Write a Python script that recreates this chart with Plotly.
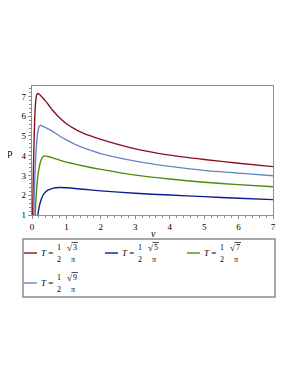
import plotly.graph_objects as go

# ---- data ----
v_red = [0.015, 0.03, 0.05, 0.08, 0.11, 0.14, 0.17, 0.22, 0.3, 0.4, 0.5, 0.6, 0.8, 1.0, 1.25, 1.5, 2.0, 3.0, 4.0, 5.0, 6.0, 7.0]
p_red = [0.5, 2.2, 4.0, 5.9, 6.8, 7.1, 7.15, 7.1, 6.95, 6.75, 6.53, 6.3, 5.92, 5.62, 5.35, 5.13, 4.83, 4.35, 4.03, 3.81, 3.62, 3.45]

v_navy = [0.15, 0.17, 0.22, 0.28, 0.35, 0.45, 0.6, 0.8, 1.0, 1.5, 2.0, 3.0, 4.0, 5.0, 6.0, 7.0]
p_navy = [0.5, 1.0, 1.5, 1.85, 2.08, 2.25, 2.35, 2.39, 2.38, 2.3, 2.22, 2.1, 2.01, 1.93, 1.85, 1.78]

v_green = [0.075, 0.09, 0.13, 0.18, 0.24, 0.3, 0.36, 0.45, 0.6, 0.8, 1.0, 1.5, 2.0, 3.0, 4.0, 5.0, 6.0, 7.0]
p_green = [0.5, 1.0, 2.2, 3.1, 3.65, 3.92, 3.99, 3.96, 3.89, 3.78, 3.68, 3.48, 3.31, 3.02, 2.82, 2.66, 2.54, 2.43]

v_lblue = [0.04, 0.05, 0.08, 0.12, 0.16, 0.2, 0.24, 0.3, 0.4, 0.5, 0.6, 0.8, 1.0, 1.25, 1.5, 2.0, 3.0, 4.0, 5.0, 6.0, 7.0]
p_lblue = [0.5, 1.0, 2.8, 4.3, 5.1, 5.45, 5.54, 5.5, 5.42, 5.33, 5.23, 5.0, 4.8, 4.58, 4.4, 4.11, 3.73, 3.46, 3.26, 3.12, 2.99]

x_ticks = [0, 1, 2, 3, 4, 5, 6, 7]
y_ticks = [1, 2, 3, 4, 5, 6, 7]
legend_roots = ["3", "5", "7", "9"]

RED, NAVY, GREEN, LBLUE = "#8a1020", "#101c8a", "#4f8a0c", "#6686c2"
colors = [RED, NAVY, GREEN, LBLUE]

OFF = 8  # page body margin
W, H = 298 - OFF, 385 - OFF
# plot area in page pixels
L, R, T, B = 32, 273, 86, 215

fig = go.Figure()
for vx, py_, c in [(v_red, p_red, RED), (v_lblue, p_lblue, LBLUE), (v_green, p_green, GREEN), (v_navy, p_navy, NAVY)]:
    fig.add_trace(go.Scatter(x=vx, y=py_, mode="lines", line=dict(color=c, width=1.4, shape="spline", smoothing=0.6),
                             showlegend=False, hoverinfo="skip"))

def px(x):
    return (x - L) / (R - L)

def py(y):
    return (B - y) / (B - T)

SERIF = "Liberation Serif"
ann = []
shapes = []

def txt(x, y, s, size, xanchor="center"):
    ann.append(dict(x=px(x), y=py(y), text=s, showarrow=False, xref="paper", yref="paper",
                    xanchor=xanchor, yanchor="middle", font=dict(family=SERIF, size=size, color="black")))

# axis labels
txt(10, 152, "p", 11)
txt(153, 233, "<i>v</i>", 10)

# legend box
shapes.append(dict(type="rect", xref="paper", yref="paper", x0=px(23), x1=px(275), y0=py(239), y1=py(297),
                   line=dict(color="#8c8c8c", width=1.5)))

entries = [(24, 253), (105, 253), (187, 253), (24, 283)]
for (ex, ey), c, r in zip(entries, colors, legend_roots):
    shapes.append(dict(type="line", xref="paper", yref="paper", x0=px(ex), x1=px(ex + 13), y0=py(ey), y1=py(ey),
                       line=dict(color=c, width=1.4)))
    txt(ex + 15, ey, "<i>T</i> =", 9, "left")
    txt(ex + 35, ey - 5.5, "1", 8)
    txt(ex + 35, ey + 6, "2", 8)
    txt(ex + 41, ey - 5.5, "\u221a", 9, "left")
    txt(ex + 50.5, ey - 5.5, r, 8)
    shapes.append(dict(type="line", xref="paper", yref="paper", x0=px(ex + 47.5), x1=px(ex + 54), y0=py(ey - 10.5),
                       y1=py(ey - 10.5), line=dict(color="black", width=0.7)))
    txt(ex + 48.5, ey + 6, "\u03c0", 8)

axis_common = dict(showgrid=False, zeroline=False, showline=True, linecolor="#8c8c8c", linewidth=1.3, mirror=True,
                   ticks="outside", ticklen=3, tickcolor="#8c8c8c", tickwidth=1,
                   tickfont=dict(family=SERIF, size=9, color="black"))

fig.update_layout(
    width=W, height=H,
    margin=dict(l=L - OFF, r=W - (R - OFF), t=T - OFF, b=H - (B - OFF), pad=0),
    plot_bgcolor="white", paper_bgcolor="white",
    xaxis=dict(range=[0, 7], tickvals=x_ticks, ticktext=[str(t) for t in x_ticks],
               minor=dict(ticks="outside", ticklen=2, dtick=0.2, tickcolor="#8c8c8c"), **axis_common),
    yaxis=dict(range=[1, 7.53], tickvals=y_ticks, ticktext=[str(t) for t in y_ticks],
               minor=dict(ticks="outside", ticklen=2, dtick=0.2, tickcolor="#8c8c8c"), **axis_common),
    annotations=ann, shapes=shapes, showlegend=False,
)

fig.write_html("out.html")
